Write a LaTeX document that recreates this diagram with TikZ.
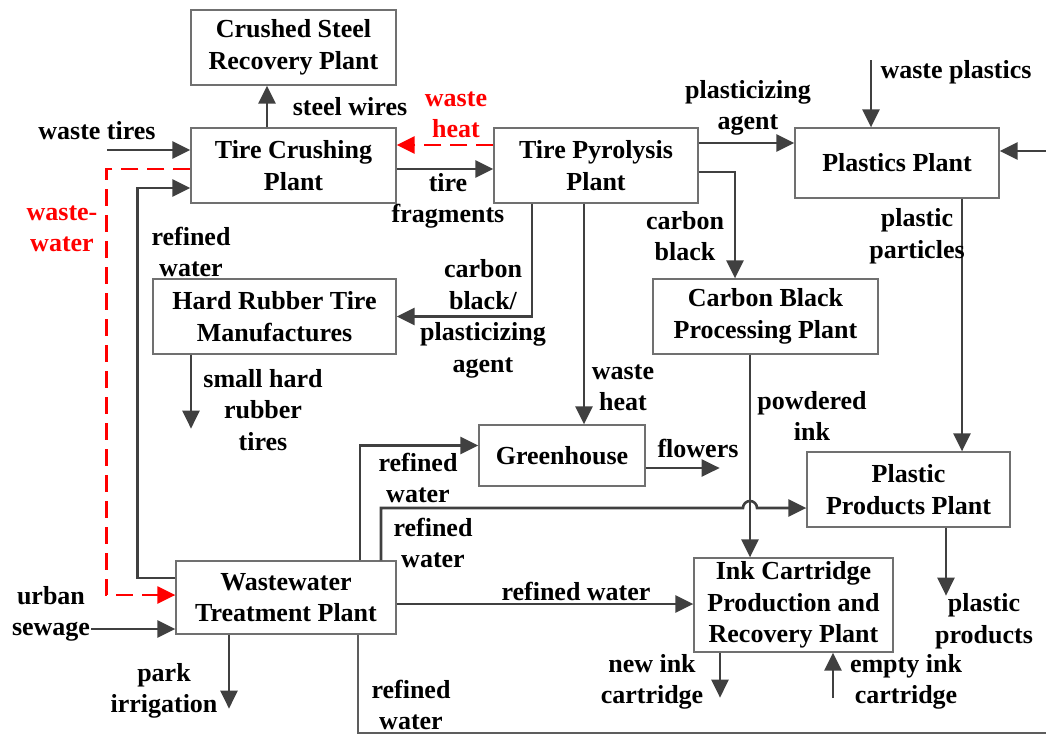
\documentclass[tikz,border=0pt]{standalone}
\usepackage{fontspec}
\setmainfont{Liberation Serif}
\usetikzlibrary{arrows.meta}
\definecolor{arrgray}{HTML}{404040}
\definecolor{boxgray}{HTML}{707070}
\definecolor{redline}{HTML}{FF0000}
\tikzset{
  plant/.style={draw=boxgray, line width=1.3pt, fill=white, align=center, inner sep=0pt, font=\bfseries},
  lbl/.style={align=center, inner sep=0pt, font=\bfseries},
  redlbl/.style={lbl, text=redline},
  arr/.style={draw=arrgray, line width=2.6pt, -{Triangle[length=18pt,width=17pt]}},
  flow/.style={draw=arrgray, line width=2.6pt},
  thinflow/.style={draw=arrgray!85, line width=1.6pt},
  redarr/.style={draw=redline, line width=2.4pt, dash pattern=on 17pt off 9pt, -{Triangle[length=18pt,width=17pt]}},
}
\begin{document}
\begin{tikzpicture}[x=1pt,y=-1pt]
\useasboundingbox (0,0) rectangle (1046,736);
\fontsize{26}{31.5}\selectfont
% boxes
\node[plant, minimum width=205pt, minimum height=75pt] (cs) at (293.5,47.5) {Crushed Steel\\Recovery Plant};
\node[plant, minimum width=205pt, minimum height=75pt] (tc) at (293.5,165.5) {Tire Crushing\\Plant};
\node[plant, minimum width=204pt, minimum height=75pt] (tp) at (596,165.5) {Tire Pyrolysis\\Plant};
\node[plant, minimum width=204pt, minimum height=70pt] (pp) at (897,163) {Plastics Plant};
\node[plant, minimum width=243pt, minimum height=75pt] (hr) at (274.5,316.5) {Hard Rubber Tire\\Manufactures};
\node[plant, minimum width=225pt, minimum height=75pt] (cb) at (765.5,316.5) {Carbon Black\\Processing Plant};
\node[plant, minimum width=166pt, minimum height=61pt] (gh) at (562,455.5) {Greenhouse};
\node[plant, minimum width=203pt, minimum height=75pt] (ppp) at (908.5,489.5) {Plastic\\Products Plant};
\node[plant, minimum width=220pt, minimum height=73pt] (ww) at (286,597.5) {Wastewater\\Treatment Plant};
\node[plant, minimum width=199pt, minimum height=94pt] (ink) at (793.5,605) {Ink Cartridge\\Production and\\Recovery Plant};

% free-end coordinates
\coordinate (wt) at (107,150);
\coordinate (wp) at (871,60);
\coordinate (us) at (91,629);
\coordinate (ei) at (833,698);
\coordinate (rb) at (1046,733);
\coordinate (rt) at (1046,151);

% helper anchors
\coordinate (tcN) at ([xshift=-26.5pt]tc.north);
\coordinate (pp1) at ([xshift=65pt]pp.south);
\coordinate (cb1) at ([xshift=-15.5pt]cb.south);
\coordinate (tp1) at ([xshift=-12pt]tp.south);
\coordinate (tp2) at ([xshift=-64pt]tp.south);
\coordinate (ww1) at ([xshift=74pt]ww.north);
\coordinate (ww2) at ([xshift=95pt]ww.north);
\coordinate (ppw) at ([yshift=-18.5pt]ppp.west);
\coordinate (ppb) at ([xshift=37.5pt]ppp.south);

% connectors
\draw[arr] (tcN) -- (tcN |- cs.south);
\draw[arr] (wt) -- (wt -| tc.west);
\draw[arr] ([yshift=19.5pt]ww.west) -- ++(-38,0) |- ([yshift=-22.5pt]tc.west);
\draw[redarr] ([yshift=-3.5pt]tc.west) -- ++(-84,0) |- ([yshift=2.5pt]ww.west);
\draw[redarr] ([yshift=20.5pt]tp.west) -- ([yshift=20.5pt]tc.east);
\draw[arr] ([yshift=-3.5pt]tc.east) -- ([yshift=-3.5pt]tp.west);
\draw[arr] ([yshift=22.5pt]tp.east) -- ([yshift=20pt]pp.west);
\draw[arr] ([yshift=-6.5pt]tp.east) -| ([xshift=-30.5pt]cb.north);
\draw[arr] (tp2) |- (hr.east);
\draw[arr] (tp1) -- (tp1 |- gh.north);
\draw[arr] (wp) -- (wp |- pp.north);
\draw[arr] (pp1) -- (pp1 |- ppp.north);
\draw[arr] ([xshift=-83.5pt]hr.south) -- ++(0,74);
\draw[arr] (cb1) -- (cb1 |- ink.north);
\draw[arr] ([yshift=-12.5pt]gh.east) -- ++(74,0);
\draw[arr] (ppb) -- ++(0,68);
\draw[arr] (ww1) |- ([yshift=10pt]gh.west);
\draw[arr] (ww2) |- (743,508) arc (180:360:7) -- (ppw);
\draw[arr] ([yshift=-6.5pt]ww.east) -- ([yshift=-6.5pt]ww.east -| ink.west);
\draw[arr] (us) -- (us -| ww.west);
\draw[arr] ([xshift=-57pt]ww.south) -- ++(0,74);
\draw[thinflow] ([xshift=72pt]ww.south) |- (rb);
\draw[arr] (rt) -- (rt -| pp.east);
\draw[arr] ([xshift=-73.5pt]ink.south) -- ++(0,45);
\draw[arr] (ei) -- (ei |- ink.south);

% labels
\node[lbl] (l1) at (350,107) {steel wires};
\node[lbl] (l2) at (97,131) {waste tires};
\node[redlbl] (l3) at (62,229) {waste-\\water};
\node[lbl] (l4) at (191,252) {refined\\water};
\node[redlbl] (l5) at (456,115) {waste\\heat};
\node[lbl] (l6) at (448,201) {tire\\fragments};
\node[lbl] (l7) at (748,108) {plasticizing\\agent};
\node[lbl] (l8) at (685,236) {carbon\\black};
\node[lbl] (l9) at (483,319) {carbon\\black/\\plasticizing\\agent};
\node[lbl] (l10) at (623,388) {waste\\heat};
\node[lbl] (l11) at (956,72) {waste plastics};
\node[lbl] (l12) at (917,236) {plastic\\particles};
\node[lbl] (l13) at (263,410) {small hard\\rubber\\tires};
\node[lbl] (l14) at (812,416) {powdered\\ink};
\node[lbl] (l15) at (698,448) {flowers};
\node[lbl] (l16) at (984,621) {plastic\\products};
\node[lbl] (l17) at (418,478) {refined\\water};
\node[lbl] (l18) at (433,543) {refined\\water};
\node[lbl] (l19) at (576,591) {refined water};
\node[lbl] (l20) at (51,614) {urban\\sewage};
\node[lbl] (l21) at (164,691) {park\\irrigation};
\node[lbl] (l22) at (411,705) {refined\\water};
\node[lbl] (l23) at (652,682) {new ink\\cartridge};
\node[lbl] (l24) at (906,682) {empty ink\\cartridge};
\end{tikzpicture}
\end{document}
